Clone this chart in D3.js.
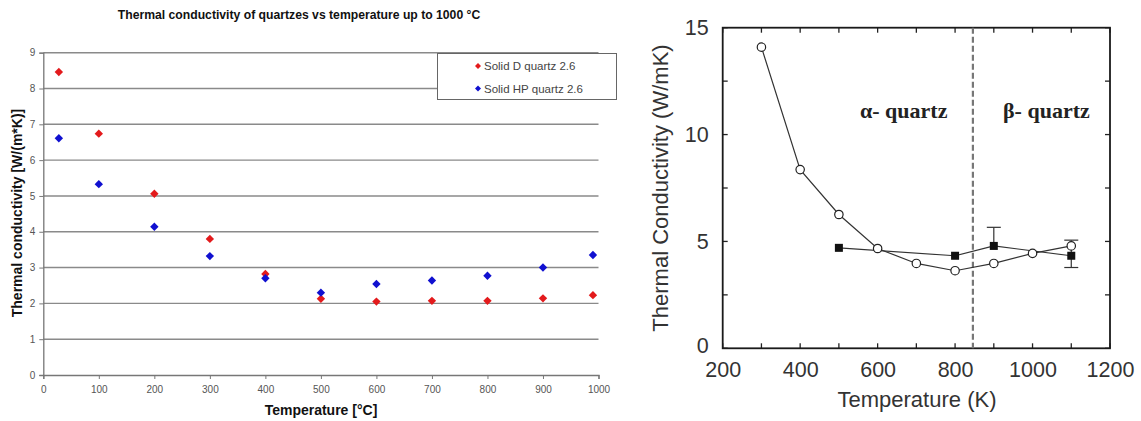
<!DOCTYPE html>
<html><head><meta charset="utf-8">
<script src="https://cdn.jsdelivr.net/npm/d3@7"></script>
<style>body{margin:0;background:#fff}svg{display:block}</style>
</head><body>
<svg id="c" width="1141" height="421"></svg>
<script>
// ---- Left chart data ----
const tempsC = [28, 100, 200, 300, 400, 500, 600, 700, 800, 900, 990];
const solidD = [8.46, 6.74, 5.06, 3.80, 2.82, 2.13, 2.05, 2.07, 2.07, 2.14, 2.23];
const solidHP = [6.61, 5.33, 4.14, 3.32, 2.70, 2.30, 2.54, 2.64, 2.77, 3.00, 3.35];
const leftXTicks = [0,100,200,300,400,500,600,700,800,900,1000];
const leftYTicks = [0,1,2,3,4,5,6,7,8,9];
const leftSeriesNames = ["Solid D quartz 2.6", "Solid HP quartz 2.6"];

// ---- Right chart data ----
const openT = [300, 400, 500, 600, 700, 800, 900, 1000, 1100];
const openK = [14.09, 8.36, 6.26, 4.67, 3.97, 3.63, 3.97, 4.44, 4.79];
const filledT = [500, 800, 900, 1100];
const filledK = [4.70, 4.33, 4.79, 4.33];
const filledErrHigh = [4.70, 4.33, 5.66, 5.06];
const filledErrLow = [4.70, 4.33, 4.79, 3.78];
const transitionT = 846;
const rightXTicks = [200, 400, 600, 800, 1000, 1200];
const rightYTicks = [0, 5, 10, 15];

const svg = d3.select("#c");

// ================= LEFT CHART =================
const xL = d3.scaleLinear().domain([0, 1000]).range([43.3, 598.5]);
const yL = d3.scaleLinear().domain([0, 9]).range([375, 52.7]);
const L = svg.append("g");

L.append("text").attr("x", 299).attr("y", 19).attr("text-anchor", "middle")
  .attr("font-family", "Liberation Sans, Arial, sans-serif").attr("font-weight", "bold")
  .attr("font-size", 12.2).attr("fill", "#111")
  .text("Thermal conductivity of quartzes vs temperature up to 1000 °C");

// gridlines
L.selectAll("line.grid").data(leftYTicks.filter(d => d > 0)).enter().append("line")
  .attr("x1", xL(0)).attr("x2", xL(1000)).attr("y1", d => yL(d)).attr("y2", d => yL(d))
  .attr("stroke", "#8a8a8a").attr("stroke-width", 1.4);

// axes
const axL = d3.axisLeft(yL).tickValues(leftYTicks).tickSize(4).tickPadding(4).tickFormat(d3.format("d"));
const gyL = L.append("g").attr("transform", `translate(${xL(0)},0)`).call(axL);
const axB = d3.axisBottom(xL).tickValues(leftXTicks).tickSize(4).tickPadding(7).tickFormat(d3.format("d"));
const gxL = L.append("g").attr("transform", `translate(0,${yL(0)})`).call(axB);
[gyL, gxL].forEach(g => {
  g.select(".domain").attr("stroke", "#777").attr("stroke-width", 1.3);
  g.selectAll(".tick line").attr("stroke", "#777");
  g.selectAll(".tick text").attr("fill", "#555").attr("font-size", 10)
    .attr("font-family", "Liberation Sans, Arial, sans-serif");
});

const diamond = s => `M0,${-s}L${s},0L0,${s}L${-s},0Z`;
function drawDiamonds(vals, color) {
  L.append("g").selectAll("path").data(vals).enter().append("path")
    .attr("d", diamond(4.2))
    .attr("transform", (d, i) => `translate(${xL(tempsC[i])},${yL(d)})`)
    .attr("fill", color);
}
drawDiamonds(solidD, "#e31a1c");
drawDiamonds(solidHP, "#1010d0");

// legend
const lg = L.append("g");
lg.append("rect").attr("x", 437.5).attr("y", 53.5).attr("width", 179).attr("height", 46)
  .attr("fill", "#fff").attr("stroke", "#666").attr("stroke-width", 1);
leftSeriesNames.forEach((n, i) => {
  const yy = 66 + i * 22.5;
  lg.append("path").attr("d", diamond(3)).attr("transform", `translate(478,${yy})`)
    .attr("fill", i === 0 ? "#e31a1c" : "#1010d0");
  lg.append("text").attr("x", 484).attr("y", yy + 4)
    .attr("font-family", "Liberation Sans, Arial, sans-serif").attr("font-size", 11.5)
    .attr("fill", "#444").text(n);
});

// axis titles
L.append("text").attr("transform", `translate(21.5,${213}) rotate(-90)`).attr("text-anchor", "middle")
  .attr("font-family", "Liberation Sans, Arial, sans-serif").attr("font-weight", "bold")
  .attr("font-size", 14).attr("fill", "#111").text("Thermal conductivity [W/(m*K)]");
L.append("text").attr("x", 321).attr("y", 415).attr("text-anchor", "middle")
  .attr("font-family", "Liberation Sans, Arial, sans-serif").attr("font-weight", "bold")
  .attr("font-size", 14).attr("fill", "#111").text("Temperature [°C]");

// ================= RIGHT CHART =================
const xR = d3.scaleLinear().domain([200, 1200]).range([722.7, 1110]);
const yR = d3.scaleLinear().domain([0, 15]).range([348.3, 27.7]);
const R = svg.append("g");
const fontR = "Liberation Sans, Helvetica, Arial, sans-serif";

// minor inward ticks
const minorX = d3.range(200, 1201, 100);
const minorY = d3.range(0, 15.01, 2.5);
const tk = 5;
minorX.forEach(t => {
  R.append("line").attr("x1", xR(t)).attr("x2", xR(t)).attr("y1", yR(0)).attr("y2", yR(0) - tk).attr("stroke", "#222").attr("stroke-width", 1.3);
  R.append("line").attr("x1", xR(t)).attr("x2", xR(t)).attr("y1", yR(15)).attr("y2", yR(15) + tk).attr("stroke", "#222").attr("stroke-width", 1.3);
});
minorY.forEach(v => {
  R.append("line").attr("x1", xR(200)).attr("x2", xR(200) + tk).attr("y1", yR(v)).attr("y2", yR(v)).attr("stroke", "#222").attr("stroke-width", 1.3);
  R.append("line").attr("x1", xR(1200)).attr("x2", xR(1200) - tk).attr("y1", yR(v)).attr("y2", yR(v)).attr("stroke", "#222").attr("stroke-width", 1.3);
});

// frame
R.append("rect").attr("x", xR(200)).attr("y", yR(15)).attr("width", xR(1200) - xR(200))
  .attr("height", yR(0) - yR(15)).attr("fill", "none").attr("stroke", "#1a1a1a").attr("stroke-width", 1.8);

// axis labels via axes (no tick lines)
const axRB = d3.axisBottom(xR).tickValues(rightXTicks).tickSize(0).tickPadding(13).tickFormat(d3.format("d"));
const gRB = R.append("g").attr("transform", `translate(0,${yR(0)})`).call(axRB);
const axRL = d3.axisLeft(yR).tickValues(rightYTicks).tickSize(0).tickPadding(14);
const gRL = R.append("g").attr("transform", `translate(${xR(200)},0)`).call(axRL);
[gRB, gRL].forEach(g => {
  g.select(".domain").remove();
  g.selectAll(".tick text").attr("fill", "#333").attr("font-size", 21.5).attr("font-family", fontR);
});
gRL.selectAll(".tick text").filter(d => d === 0).attr("dy", "0.2em");

// dashed transition line
R.append("line").attr("x1", xR(transitionT)).attr("x2", xR(transitionT))
  .attr("y1", yR(15)).attr("y2", yR(0)).attr("stroke", "#777").attr("stroke-width", 2.2)
  .attr("stroke-dasharray", "6,3");

// region labels
R.append("text").attr("x", 860).attr("y", 118).attr("font-family", "Liberation Serif, Times New Roman, serif")
  .attr("font-weight", "bold").attr("font-size", 22).attr("fill", "#222").text("α- quartz");
R.append("text").attr("x", 1003).attr("y", 118).attr("font-family", "Liberation Serif, Times New Roman, serif")
  .attr("font-weight", "bold").attr("font-size", 22).attr("fill", "#222").text("β- quartz");

// lines
const lineOpen = d3.line().x((d, i) => xR(openT[i])).y(d => yR(d));
R.append("path").attr("d", lineOpen(openK)).attr("fill", "none").attr("stroke", "#333").attr("stroke-width", 1.2);
const lineFilled = d3.line().x((d, i) => xR(filledT[i])).y(d => yR(d));
R.append("path").attr("d", lineFilled(filledK)).attr("fill", "none").attr("stroke", "#333").attr("stroke-width", 1.2);

// error bars
filledT.forEach((t, i) => {
  if (filledErrHigh[i] === filledErrLow[i]) return;
  const x = xR(t);
  R.append("line").attr("x1", x).attr("x2", x).attr("y1", yR(filledErrHigh[i])).attr("y2", yR(filledErrLow[i])).attr("stroke", "#333").attr("stroke-width", 1.2);
  if (filledErrHigh[i] > filledK[i]) R.append("line").attr("x1", x - 7).attr("x2", x + 7).attr("y1", yR(filledErrHigh[i])).attr("y2", yR(filledErrHigh[i])).attr("stroke", "#333").attr("stroke-width", 1.2);
  if (filledErrLow[i] < filledK[i]) R.append("line").attr("x1", x - 7).attr("x2", x + 7).attr("y1", yR(filledErrLow[i])).attr("y2", yR(filledErrLow[i])).attr("stroke", "#333").attr("stroke-width", 1.2);
});

// open circles
R.append("g").selectAll("circle").data(openK).enter().append("circle")
  .attr("cx", (d, i) => xR(openT[i])).attr("cy", d => yR(d)).attr("r", 4.2)
  .attr("fill", "#fff").attr("stroke", "#222").attr("stroke-width", 1.2);
// filled squares
R.append("g").selectAll("rect").data(filledK).enter().append("rect")
  .attr("x", (d, i) => xR(filledT[i]) - 4).attr("y", d => yR(d) - 4).attr("width", 8).attr("height", 8)
  .attr("fill", "#111");

// axis titles
R.append("text").attr("x", 917).attr("y", 407).attr("text-anchor", "middle").attr("font-family", fontR)
  .attr("font-size", 22).attr("fill", "#333").text("Temperature (K)");
R.append("text").attr("transform", `translate(668,188) rotate(-90)`).attr("text-anchor", "middle")
  .attr("font-family", fontR).attr("font-size", 22).attr("fill", "#333").text("Thermal Conductivity (W/mK)");
</script>
</body></html>
